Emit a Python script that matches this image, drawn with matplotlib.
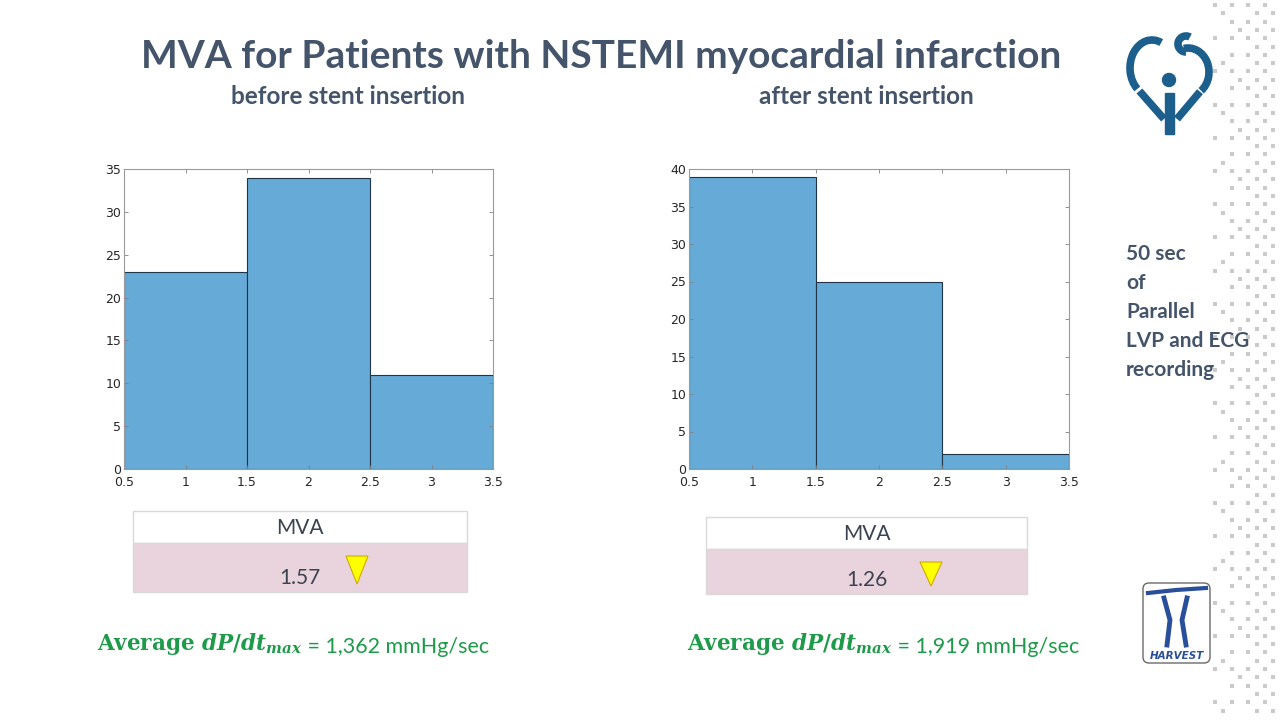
import matplotlib
matplotlib.use("Agg")
from matplotlib import pyplot as plt
from matplotlib.patches import Rectangle, Polygon, Circle, FancyBboxPatch, Arc
import numpy as np

# Data
bin_edges = [0.5, 1.5, 2.5, 3.5]
counts_before = [23, 34, 11]
counts_after = [39, 25, 2]
mva_before = "1.57"
mva_after = "1.26"
dpdt_before = "1,362"
dpdt_after = "1,919"

title = "MVA for Patients with NSTEMI myocardial infarction"
sub_before = "before stent insertion"
sub_after = "after stent insertion"
side_note = "50 sec\nof\nParallel\nLVP and ECG\nrecording"

TXT = "#44546A"
GREEN = "#1E9B4A"
BAR = "#66AAD7"
LOGO = "#1C5F8C"

plt.rcParams['mathtext.fontset'] = 'custom'
plt.rcParams['mathtext.rm'] = 'DejaVu Serif:bold'
plt.rcParams['mathtext.bf'] = 'DejaVu Serif:bold'
plt.rcParams['mathtext.it'] = 'DejaVu Serif:italic:bold'

fig = plt.figure(figsize=(12.8, 7.2), dpi=100)

# Overlay axes in pixel coordinates for the slide decoration
bg = fig.add_axes([0, 0, 1, 1], zorder=0)
bg.set_xlim(0, 1280)
bg.set_ylim(720, 0)
bg.axis('off')

bg.text(601, 57, title, ha='center', va='center', fontsize=28, fontweight='bold',
        family='Lato', color=TXT)
bg.text(348, 97, sub_before, ha='center', va='center', fontsize=17.5, fontweight='bold',
        family='Lato', color=TXT)
bg.text(866, 97, sub_after, ha='center', va='center', fontsize=17.5, fontweight='bold',
        family='Lato', color=TXT)
bg.text(1126, 244, side_note, ha='left', va='top', fontsize=15, fontweight='bold',
        family='Lato', color=TXT, linespacing=1.57)


# Histogram panels
def histogram(rect, counts, ymax):
    ax = fig.add_axes(rect, zorder=2)
    ax.bar(bin_edges[:-1], counts, width=np.diff(bin_edges), align='edge',
           color=BAR, edgecolor='#1F3447', linewidth=0.8)
    ax.set_xlim(bin_edges[0], bin_edges[-1])
    ax.set_ylim(0, ymax)
    ax.set_xticks(np.arange(0.5, 3.51, 0.5))
    ax.set_xticklabels(['0.5', '1', '1.5', '2', '2.5', '3', '3.5'])
    ax.set_yticks(np.arange(0, ymax + 1, 5))
    ax.tick_params(direction='in', top=True, right=True, length=3, width=0.6,
                   labelsize=9, colors='#262626', pad=2, color='#808080')
    ax.tick_params(axis='x', pad=5)
    for s in ax.spines.values():
        s.set_color('#9A9A9A')
        s.set_linewidth(0.8)
    return ax


histogram([124 / 1280, 1 - 469 / 720, 369 / 1280, 300 / 720], counts_before, 35)
histogram([689 / 1280, 1 - 469 / 720, 380 / 1280, 300 / 720], counts_after, 40)


# MVA tables
def mva_table(x0, x1, y0, ymid, y1, value, tri_x):
    bg.add_patch(Rectangle((x0, y0), x1 - x0, ymid - y0, facecolor='white',
                           edgecolor='#D9D9D9', linewidth=1))
    bg.add_patch(Rectangle((x0, ymid), x1 - x0, y1 - ymid, facecolor='#E9D3DD',
                           edgecolor='#D9D9D9', linewidth=1))
    xc = (x0 + x1) / 2
    bg.text(xc, (y0 + ymid) / 2 + 1, "MVA", ha='center', va='center', fontsize=15,
            family='Lato', color='#3C4350')
    bg.text(xc, y1 - 14, value, ha='center', va='center', fontsize=15,
            family='Lato', color='#3C4350')
    bg.add_patch(Polygon([[tri_x - 11, ymid + 13], [tri_x + 11, ymid + 13], [tri_x, y1 - 8]],
                         closed=True, facecolor='#FFFF00', edgecolor='#D4A900', linewidth=0.8))


mva_table(133, 467, 511, 543, 592, mva_before, 357)
mva_table(706, 1027, 517, 549, 594, mva_after, 931)


# Green dP/dt lines
def dpdt_line(x, y, value):
    t1 = bg.text(x, y, r"$\mathrm{Average}\ dP/dt_{max}$", ha='left', va='baseline',
                 fontsize=15.5, color=GREEN)
    bg.annotate(" = " + value + " mmHg/sec", xy=(1, 0), xycoords=t1, ha='left', va='bottom',
                fontsize=15.5, family='Lato', color=GREEN)


dpdt_line(97, 650, dpdt_before)
dpdt_line(687, 650, dpdt_after)

# Dotted pattern along the right edge
for i, y in enumerate(np.arange(5, 718, 8.3)):
    if i % 2 == 0:
        cols = [1232, 1248, 1265]
        if i % 4 == 0:
            cols.append(1215)
    else:
        cols = [1257, 1273]
        if i % 3 == 0:
            cols.append(1240)
        if i % 6 == 1:
            cols.append(1223)
    bg.scatter(cols, [y] * len(cols), s=6, marker='s', color='#CACACA', linewidths=0)

# Heart logo (left lobe, S-curl and right lobe, plus the "i")
lw = 5.5
bg.add_patch(Arc((1152, 68), 44, 56, theta1=125, theta2=290, color=LOGO, linewidth=lw))
bg.plot([1139.4, 1164], [91, 119], color=LOGO, linewidth=lw, solid_capstyle='butt')
bg.add_patch(Arc((1186, 44), 16, 16, theta1=90, theta2=300, color=LOGO, linewidth=lw))
bg.add_patch(Arc((1188, 72), 42, 48, theta1=-100, theta2=55, color=LOGO, linewidth=lw))
bg.plot([1200, 1177], [91.7, 119], color=LOGO, linewidth=lw, solid_capstyle='butt')
bg.add_patch(Circle((1169, 80), 6.5, color=LOGO))
bg.add_patch(Rectangle((1164.5, 93), 9, 41, color=LOGO))

# Harvest logo
bg.add_patch(FancyBboxPatch((1143, 583), 67, 80, boxstyle="round,pad=0,rounding_size=6",
                            facecolor='white', edgecolor='#6A6A6A', linewidth=1, zorder=3))
bg.plot([1148, 1176, 1206], [593, 590, 588], color='#2A4F9A', linewidth=3, zorder=4)
bg.plot([1164, 1170, 1167], [598, 620, 645], color='#2A4F9A', linewidth=3.5, zorder=4)
bg.plot([1187, 1182, 1186], [598, 620, 645], color='#2A4F9A', linewidth=3.5, zorder=4)
bg.text(1177, 656, "HARVEST", ha='center', va='center', fontsize=7.5, fontweight='bold',
        style='italic', family='DejaVu Sans', color='#2A4F9A', zorder=5)

fig.savefig("out.png", dpi=100)
